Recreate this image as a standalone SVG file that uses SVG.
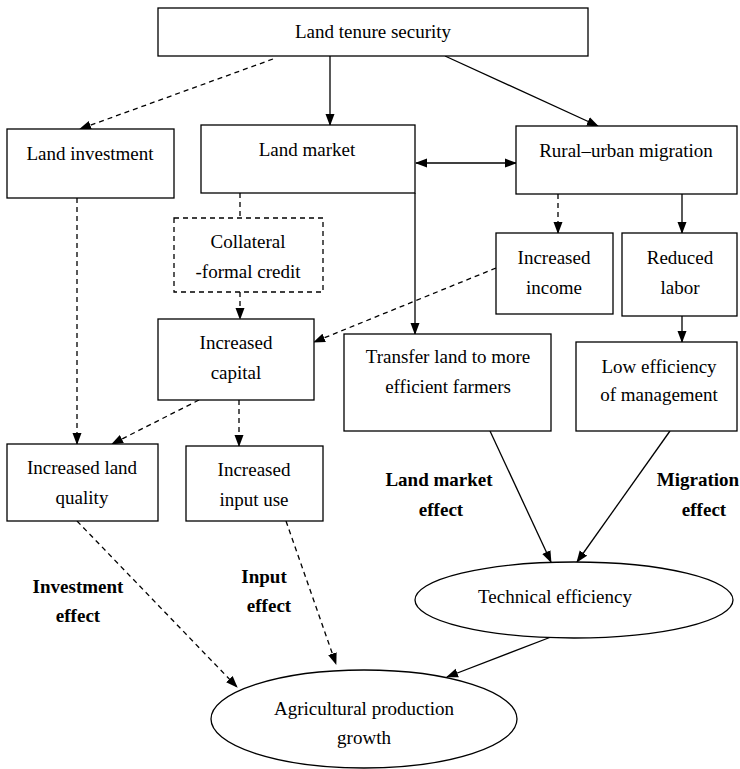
<svg xmlns="http://www.w3.org/2000/svg" width="740" height="769" viewBox="0 0 740 769">
<style>
  .box { fill: #fff; stroke: #000; stroke-width: 1.3; }
  .dbox { fill: #fff; stroke: #000; stroke-width: 1.3; stroke-dasharray: 5 4; }
  text { font-family: "Liberation Serif", "Times New Roman", Tinos, "DejaVu Serif", serif; fill: #000; text-anchor: middle; }
  .t { font-size: 19px; }
  .b { font-size: 19px; font-weight: bold; }
  .e { fill: none; stroke: #000; stroke-width: 1.3; }
  .d { fill: none; stroke: #000; stroke-width: 1.3; stroke-dasharray: 5 4; }
</style>
<defs>
  <marker id="ah" markerUnits="userSpaceOnUse" markerWidth="12" markerHeight="10" refX="11" refY="4.5" orient="auto-start-reverse" viewBox="0 0 12 9">
    <path d="M0,0 L12,4.5 L0,9 z" fill="#000"/>
  </marker>
</defs>

<g id="connectors">
  <line class="d" x1="273" y1="59" x2="80" y2="129" marker-end="url(#ah)"/>
  <line class="e" x1="330" y1="56" x2="330" y2="125" marker-end="url(#ah)"/>
  <line class="e" x1="445" y1="56" x2="598" y2="126" marker-end="url(#ah)"/>
  <line class="e" x1="416" y1="163" x2="516" y2="163" marker-start="url(#ah)" marker-end="url(#ah)"/>
  <line class="d" x1="77" y1="198" x2="77" y2="444" marker-end="url(#ah)"/>
  <line class="d" x1="240" y1="193" x2="240" y2="218"/>
  <line class="d" x1="240" y1="292" x2="240" y2="319" marker-end="url(#ah)"/>
  <line class="e" x1="415" y1="193" x2="415" y2="334" marker-end="url(#ah)"/>
  <line class="d" x1="558" y1="194" x2="558" y2="233" marker-end="url(#ah)"/>
  <line class="e" x1="682" y1="194" x2="682" y2="233" marker-end="url(#ah)"/>
  <line class="d" x1="496" y1="268" x2="314" y2="342" marker-end="url(#ah)"/>
  <line class="e" x1="682" y1="316" x2="682" y2="342" marker-end="url(#ah)"/>
  <line class="d" x1="239" y1="400" x2="239" y2="446" marker-end="url(#ah)"/>
  <line class="d" x1="199" y1="400" x2="112" y2="444" marker-end="url(#ah)"/>
  <line class="d" x1="77" y1="521" x2="237" y2="687" marker-end="url(#ah)"/>
  <line class="d" x1="286" y1="521" x2="336" y2="664" marker-end="url(#ah)"/>
  <line class="e" x1="490" y1="431" x2="551" y2="562" marker-end="url(#ah)"/>
  <line class="e" x1="670" y1="431" x2="577" y2="562" marker-end="url(#ah)"/>
  <line class="e" x1="551" y1="637" x2="447" y2="677" marker-end="url(#ah)"/>
</g>

<g id="land-tenure">
  <rect class="box" x="158" y="8" width="430" height="48"/>
  <text class="t" x="373" y="38">Land tenure security</text>
</g>
<g id="land-investment">
  <rect class="box" x="7" y="129" width="167" height="69"/>
  <text class="t" x="90" y="160">Land investment</text>
</g>
<g id="land-market">
  <rect class="box" x="201" y="125" width="214" height="68"/>
  <text class="t" x="307" y="156">Land market</text>
</g>
<g id="rural-urban">
  <rect class="box" x="516" y="126" width="221" height="68"/>
  <text class="t" x="626" y="157">Rural–urban migration</text>
</g>
<g id="collateral">
  <rect class="dbox" x="174" y="218" width="149" height="74"/>
  <text class="t" x="248" y="248">Collateral</text>
  <text class="t" x="248" y="278">-formal credit</text>
</g>
<g id="increased-income">
  <rect class="box" x="496" y="233" width="117" height="81"/>
  <text class="t" x="554" y="264">Increased</text>
  <text class="t" x="554" y="294">income</text>
</g>
<g id="reduced-labor">
  <rect class="box" x="622" y="233" width="115" height="83"/>
  <text class="t" x="680" y="264">Reduced</text>
  <text class="t" x="680" y="294">labor</text>
</g>
<g id="increased-capital">
  <rect class="box" x="158" y="319" width="156" height="81"/>
  <text class="t" x="236" y="349">Increased</text>
  <text class="t" x="236" y="379">capital</text>
</g>
<g id="transfer-land">
  <rect class="box" x="344" y="334" width="207" height="97"/>
  <text class="t" x="448" y="363">Transfer land to more</text>
  <text class="t" x="448" y="393">efficient farmers</text>
</g>
<g id="low-efficiency">
  <rect class="box" x="576" y="342" width="161" height="89"/>
  <text class="t" x="659" y="373">Low efficiency</text>
  <text class="t" x="659" y="401">of management</text>
</g>
<g id="land-quality">
  <rect class="box" x="7" y="444" width="151" height="77"/>
  <text class="t" x="82" y="474">Increased land</text>
  <text class="t" x="82" y="504">quality</text>
</g>
<g id="input-use">
  <rect class="box" x="186" y="446" width="137" height="75"/>
  <text class="t" x="254" y="476">Increased</text>
  <text class="t" x="254" y="506">input use</text>
</g>
<g id="technical-efficiency">
  <ellipse class="box" cx="574" cy="600" rx="159" ry="38"/>
  <text class="t" x="555" y="603">Technical efficiency</text>
</g>
<g id="agri-growth">
  <ellipse class="box" cx="364" cy="719" rx="153" ry="49"/>
  <text class="t" x="364" y="715">Agricultural production</text>
  <text class="t" x="364" y="744">growth</text>
</g>

<g id="labels">
  <text class="b" x="439" y="486">Land market</text>
  <text class="b" x="441" y="516">effect</text>
  <text class="b" x="698" y="486">Migration</text>
  <text class="b" x="704" y="516">effect</text>
  <text class="b" x="78" y="593">Investment</text>
  <text class="b" x="78" y="622">effect</text>
  <text class="b" x="264" y="583">Input</text>
  <text class="b" x="269" y="612">effect</text>
</g>
</svg>
